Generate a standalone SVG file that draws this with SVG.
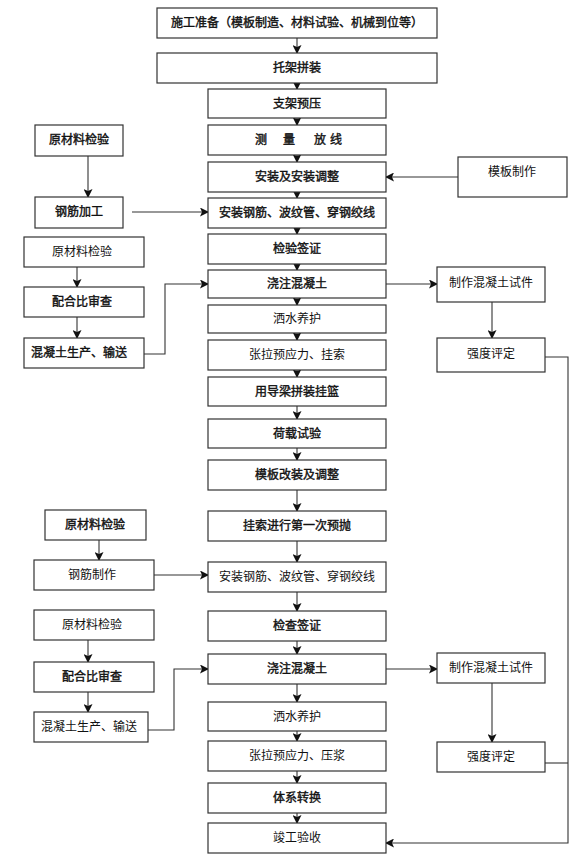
<svg xmlns="http://www.w3.org/2000/svg" width="585" height="855" viewBox="0 0 585 855">
<style>
.box{fill:#fff;stroke:#333;stroke-width:1.2}
.t{font-family:"Noto Sans CJK SC","Noto Sans",sans-serif;font-size:12px;fill:#111;text-anchor:middle}
.b{stroke:#111;stroke-width:0.4}
.ln{fill:none;stroke:#333;stroke-width:1.1}
</style>
<defs>
<marker id="ah" markerWidth="9" markerHeight="9" refX="8" refY="4.5" orient="auto" markerUnits="userSpaceOnUse">
<path d="M0,0 L9,4.5 L0,9 L2,4.5 z" fill="#111"/>
</marker>
</defs>
<rect width="585" height="855" fill="#fff"/>
<g id="connectors">
<path class="ln" d="M297,38 V53" marker-end="url(#ah)"/>
<path class="ln" d="M297,83 V89" marker-end="url(#ah)"/>
<path class="ln" d="M297,118 V125" marker-end="url(#ah)"/>
<path class="ln" d="M297,155 V162" marker-end="url(#ah)"/>
<path class="ln" d="M297,192 V198" marker-end="url(#ah)"/>
<path class="ln" d="M297,228 V234" marker-end="url(#ah)"/>
<path class="ln" d="M297,264 V270" marker-end="url(#ah)"/>
<path class="ln" d="M297,298 V305" marker-end="url(#ah)"/>
<path class="ln" d="M297,333 V340" marker-end="url(#ah)"/>
<path class="ln" d="M297,370 V377" marker-end="url(#ah)"/>
<path class="ln" d="M297,406 V419" marker-end="url(#ah)"/>
<path class="ln" d="M297,448 V460" marker-end="url(#ah)"/>
<path class="ln" d="M297,490 V511" marker-end="url(#ah)"/>
<path class="ln" d="M297,541 V562" marker-end="url(#ah)"/>
<path class="ln" d="M297,592 V611" marker-end="url(#ah)"/>
<path class="ln" d="M297,641 V654" marker-end="url(#ah)"/>
<path class="ln" d="M297,684 V702" marker-end="url(#ah)"/>
<path class="ln" d="M297,731 V741" marker-end="url(#ah)"/>
<path class="ln" d="M297,771 V783" marker-end="url(#ah)"/>
<path class="ln" d="M297,813 V823" marker-end="url(#ah)"/>
<path class="ln" d="M88,156 V197" marker-end="url(#ah)"/>
<path class="ln" d="M132,212 H208" marker-end="url(#ah)"/>
<path class="ln" d="M458,177 H386" marker-end="url(#ah)"/>
<path class="ln" d="M77,267 V287" marker-end="url(#ah)"/>
<path class="ln" d="M77,317 V338" marker-end="url(#ah)"/>
<path class="ln" d="M132,354 H165 V284 H208" marker-end="url(#ah)"/>
<path class="ln" d="M383,284 H437" marker-end="url(#ah)"/>
<path class="ln" d="M492,302 V338" marker-end="url(#ah)"/>
<path class="ln" d="M545,357 H568 V843 H386" marker-end="url(#ah)"/>
<path class="ln" d="M99,540 V560" marker-end="url(#ah)"/>
<path class="ln" d="M154,575 H208" marker-end="url(#ah)"/>
<path class="ln" d="M88,640 V662" marker-end="url(#ah)"/>
<path class="ln" d="M88,692 V712" marker-end="url(#ah)"/>
<path class="ln" d="M142,730 H174 V669 H208" marker-end="url(#ah)"/>
<path class="ln" d="M383,669 H437" marker-end="url(#ah)"/>
<path class="ln" d="M492,683 V742" marker-end="url(#ah)"/>
<path class="ln" d="M545,763 H568"/>
</g>
<g id="n1"><rect class="box" x="157" y="8" width="280" height="30"/><text class="t b" x="297" y="27">施工准备（模板制造、材料试验、机械到位等）</text></g>
<g id="n2"><rect class="box" x="157" y="53" width="280" height="30"/><text class="t b" x="297" y="72">托架拼装</text></g>
<g id="n3"><rect class="box" x="208" y="89" width="178" height="29"/><text class="t b" x="297" y="108">支架预压</text></g>
<g id="n4"><rect class="box" x="208" y="125" width="178" height="30"/><text class="t b" style="text-anchor:start" x="255 283 314 330" y="144">测量放线</text></g>
<g id="n5"><rect class="box" x="208" y="162" width="178" height="30"/><text class="t b" x="297" y="181">安装及安装调整</text></g>
<g id="n6"><rect class="box" x="208" y="198" width="178" height="30"/><text class="t b" x="297" y="217">安装钢筋、波纹管、穿钢绞线</text></g>
<g id="n7"><rect class="box" x="208" y="234" width="178" height="30"/><text class="t b" x="297" y="253">检验签证</text></g>
<g id="n8"><rect class="box" x="208" y="270" width="178" height="28"/><text class="t b" x="297" y="288">浇注混凝土</text></g>
<g id="n9"><rect class="box" x="208" y="305" width="178" height="28"/><text class="t" x="297" y="323">洒水养护</text></g>
<g id="n10"><rect class="box" x="208" y="340" width="178" height="30"/><text class="t" x="297" y="359">张拉预应力、挂索</text></g>
<g id="n11"><rect class="box" x="208" y="377" width="178" height="29"/><text class="t b" x="297" y="396">用导梁拼装挂篮</text></g>
<g id="n12"><rect class="box" x="208" y="419" width="178" height="29"/><text class="t b" x="297" y="438">荷载试验</text></g>
<g id="n13"><rect class="box" x="208" y="460" width="178" height="30"/><text class="t b" x="297" y="479">模板改装及调整</text></g>
<g id="n14"><rect class="box" x="208" y="511" width="178" height="30"/><text class="t b" x="297" y="530">挂索进行第一次预抛</text></g>
<g id="n15"><rect class="box" x="208" y="562" width="178" height="30"/><text class="t" x="297" y="581">安装钢筋、波纹管、穿钢绞线</text></g>
<g id="n16"><rect class="box" x="208" y="611" width="178" height="30"/><text class="t b" x="297" y="630">检查签证</text></g>
<g id="n17"><rect class="box" x="208" y="654" width="178" height="30"/><text class="t b" x="297" y="673">浇注混凝土</text></g>
<g id="n18"><rect class="box" x="208" y="702" width="178" height="29"/><text class="t" x="297" y="721">洒水养护</text></g>
<g id="n19"><rect class="box" x="208" y="741" width="178" height="30"/><text class="t" x="297" y="760">张拉预应力、压浆</text></g>
<g id="n20"><rect class="box" x="208" y="783" width="178" height="30"/><text class="t b" x="297" y="802">体系转换</text></g>
<g id="n21"><rect class="box" x="208" y="823" width="178" height="30"/><text class="t" x="297" y="842">竣工验收</text></g>
<g id="l1"><rect class="box" x="35" y="125" width="88" height="31"/><text class="t b" x="79" y="144">原材料检验</text></g>
<g id="l2"><rect class="box" x="35" y="197" width="88" height="31"/><text class="t b" x="79" y="216">钢筋加工</text></g>
<g id="l3"><rect class="box" x="24" y="237" width="120" height="30"/><text class="t" x="82" y="256">原材料检验</text></g>
<g id="l4"><rect class="box" x="24" y="287" width="120" height="30"/><text class="t b" x="82" y="306">配合比审查</text></g>
<g id="l5"><rect class="box" x="24" y="338" width="120" height="30"/><text class="t b" x="79" y="357">混凝土生产、输送</text></g>
<g id="l6"><rect class="box" x="45" y="510" width="101" height="30"/><text class="t b" x="95" y="529">原材料检验</text></g>
<g id="l7"><rect class="box" x="34" y="560" width="120" height="30"/><text class="t" x="92" y="579">钢筋制作</text></g>
<g id="l8"><rect class="box" x="34" y="610" width="120" height="30"/><text class="t" x="92" y="629">原材料检验</text></g>
<g id="l9"><rect class="box" x="34" y="662" width="120" height="30"/><text class="t b" x="92" y="681">配合比审查</text></g>
<g id="l10"><rect class="box" x="34" y="712" width="114" height="30"/><text class="t" x="89" y="731">混凝土生产、输送</text></g>
<g id="r1"><rect class="box" x="458" y="157" width="109" height="40"/><text class="t" x="512" y="176">模板制作</text></g>
<g id="r2"><rect class="box" x="437" y="267" width="108" height="35"/><text class="t" x="491" y="287">制作混凝土试件</text></g>
<g id="r3"><rect class="box" x="437" y="338" width="108" height="34"/><text class="t" x="491" y="358">强度评定</text></g>
<g id="r4"><rect class="box" x="437" y="653" width="108" height="30"/><text class="t" x="491" y="672">制作混凝土试件</text></g>
<g id="r5"><rect class="box" x="437" y="742" width="108" height="30"/><text class="t" x="491" y="761">强度评定</text></g>
</svg>
